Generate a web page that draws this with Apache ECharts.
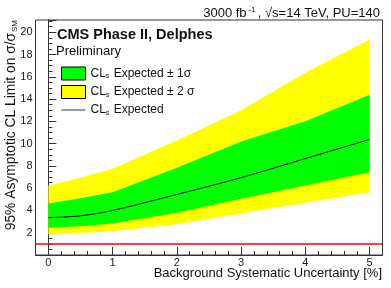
<!DOCTYPE html>
<html><head><meta charset="utf-8">
<script src="https://cdn.jsdelivr.net/npm/echarts@6/dist/echarts.min.js"></script>
<style>html,body{margin:0;padding:0;background:#fff}#c{width:391px;height:288px}</style>
</head><body><div id="c"></div>
<script>
// ---- data ----
var xVals        = [0, 0.5, 1, 2, 3, 4, 5];
var expected     = [3.35, 3.52, 4.00, 5.44, 6.95, 8.66, 10.38];
var oneSigmaUp   = [4.63, 5.10, 5.64, 7.83, 10.2, 12.0, 14.39];
var oneSigmaDown = [2.45, 2.59, 2.83, 3.80, 5.05, 6.25, 7.44];
var twoSigmaUp   = [6.25, 6.94, 7.75, 10.29, 13.0, 16.36, 19.35];
var twoSigmaDown = [1.85, 1.96, 2.14, 2.75, 3.73, 4.69, 5.64];
var smLine       = 1;
var xTickLabels  = [0, 1, 2, 3, 4, 5];
var yTickLabels  = [2, 4, 6, 8, 10, 12, 14, 16, 18, 20];

var FONT = '"Liberation Sans", Arial, Helvetica, sans-serif';
var xMinor = [];
for (var i = -1; i <= 26; i++) { var v = Math.round(i * 0.2 * 10) / 10; if (v % 1 !== 0) xMinor.push(v); }

function bandSeries(name, up, down, color) {
  return {
    name: name, type: 'custom', xAxisIndex: 0, yAxisIndex: 0,
    itemStyle: { color: color },
    data: [0],
    renderItem: function (params, api) {
      var pts = [];
      for (var k = 0; k < xVals.length; k++) pts.push(api.coord([xVals[k], up[k]]));
      for (var k2 = xVals.length - 1; k2 >= 0; k2--) pts.push(api.coord([xVals[k2], down[k2]]));
      return { type: 'polygon', shape: { points: pts }, style: { fill: color, stroke: null } };
    },
    z: 2
  };
}

var names = { g: 'CL{sub|s} Expected ± 1σ', y: 'CL{sub|s} Expected ± 2 σ', m: 'CL{sub|s} Expected' };

var chart = echarts.init(document.getElementById('c'), null, { renderer: 'canvas' });
chart.setOption({
  backgroundColor: '#fff',
  animation: false,
  grid: { left: 35.5, right: 8.5, top: 20, bottom: 33, show: true, borderColor: '#333', borderWidth: 1, backgroundColor: 'transparent', z: 10 },
  xAxis: [{
    type: 'value', min: -0.2, max: 5.2,
    axisLine: { show: true, lineStyle: { color: '#333', width: 1 } },
    axisTick: { show: true, inside: true, length: 8, customValues: xTickLabels, lineStyle: { color: '#333' } },
    axisLabel: { customValues: xTickLabels, fontSize: 11, color: '#222', fontFamily: FONT, margin: 2 },
    splitLine: { show: false }
  }, {
    type: 'value', min: -0.2, max: 5.2, position: 'bottom',
    axisLine: { show: false },
    axisTick: { show: true, inside: true, length: 4, customValues: xMinor, lineStyle: { color: '#333' } },
    axisLabel: { show: false },
    splitLine: { show: false }
  }],
  yAxis: [{
    type: 'value', min: 0, max: 21.1, interval: 2,
    axisLine: { show: true, lineStyle: { color: '#333', width: 1 } },
    axisTick: { show: true, inside: true, length: 8, lineStyle: { color: '#333' } },
    minorTick: { show: true, splitNumber: 4, length: 4, lineStyle: { color: '#333' } },
    axisLabel: { fontSize: 11, color: '#222', fontFamily: FONT, margin: 3, showMaxLabel: false,
      formatter: function (v) { return yTickLabels.indexOf(v) >= 0 ? String(v) : ''; } },
    splitLine: { show: false }
  }],
  legend: {
    orient: 'vertical', left: 61, top: 66.5, padding: 0, itemWidth: 24, itemHeight: 13, itemGap: 4.5,
    selectedMode: false,
    data: [
      { name: 'g', icon: 'rect', itemStyle: { color: '#00ff00', borderColor: '#000', borderWidth: 1 } },
      { name: 'y', icon: 'rect', itemStyle: { color: '#ffff00', borderColor: '#000', borderWidth: 1 } },
      { name: 'm', icon: 'path://M0,6L24,6L24,7L0,7Z', itemStyle: { color: '#333' } }
    ],
    formatter: function (n) { return names[n]; },
    textStyle: { fontSize: 12, fontFamily: FONT, color: '#111', lineHeight: 13,
      rich: { sub: { fontSize: 7, fontFamily: FONT, color: '#111', padding: [6, 1, 0, 0] } } }
  },
  series: [
    bandSeries('y', twoSigmaUp, twoSigmaDown, '#ffff00'),
    bandSeries('g', oneSigmaUp, oneSigmaDown, '#00ff00'),
    {
      name: 'm', type: 'line', xAxisIndex: 0, yAxisIndex: 0, symbol: 'none', smooth: 0.35,
      lineStyle: { color: '#000', width: 1 },
      data: xVals.map(function (x, k) { return [x, expected[k]]; }),
      z: 3,
      markLine: { silent: true, symbol: 'none', label: { show: false },
        lineStyle: { color: '#ff0000', width: 1.5, type: 'solid' },
        data: [{ yAxis: smLine }] }
    }
  ],
  graphic: [
    { type: 'text', x: 380, y: 13, style: { text: '3000 fb{sup|-1}, √s=14 TeV, PU=140', align: 'right', verticalAlign: 'middle',
      font: '13px ' + FONT, fill: '#111', rich: { sup: { fontSize: 8, fontFamily: FONT, fill: '#111', padding: [0, 2, 7, 2] } } } },
    { type: 'text', x: 57, y: 35, style: { text: 'CMS Phase II, Delphes', align: 'left', verticalAlign: 'middle',
      font: 'bold 14.5px ' + FONT, fill: '#111' } },
    { type: 'text', x: 56, y: 51, style: { text: 'Preliminary', align: 'left', verticalAlign: 'middle',
      font: '13px ' + FONT, fill: '#111' } },
    { type: 'text', x: 382, y: 273, style: { text: 'Background Systematic Uncertainty [%]', align: 'right', verticalAlign: 'middle',
      font: '13px ' + FONT, fill: '#111' } },
    { type: 'text', x: 11, y: 20, rotation: Math.PI / 2, style: { text: '95% Asymptotic CL Limit on σ/σ{sub|SM}', align: 'right', verticalAlign: 'middle',
      font: '13.8px ' + FONT, fill: '#111', rich: { sub: { fontSize: 8, fontFamily: FONT, fill: '#111', padding: [7, 0, 0, 1] } } } }
  ]
});
</script></body></html>
